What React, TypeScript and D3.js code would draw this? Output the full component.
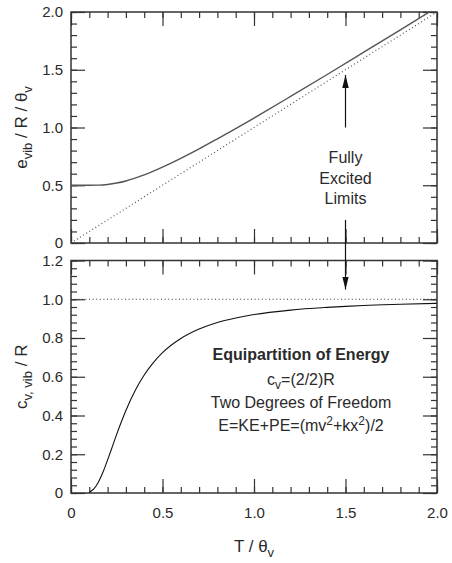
import React, { useEffect, useRef } from 'react';
import * as d3 from 'd3';

// T / theta_v values
const tEnergy = [0, 0.05, 0.1, 0.15, 0.2, 0.25, 0.3, 0.35, 0.4, 0.45, 0.5, 0.6, 0.7, 0.8, 0.9, 1.0, 1.2, 1.4, 1.6, 1.8, 2.0];
const eVib = [0.5, 0.5, 0.5, 0.501, 0.507, 0.519, 0.537, 0.561, 0.589, 0.622, 0.657, 0.733, 0.815, 0.902, 0.991, 1.082, 1.269, 1.459, 1.652, 1.846, 2.041];

const tCv = [0.1, 0.125, 0.15, 0.175, 0.2, 0.225, 0.25, 0.3, 0.35, 0.4, 0.45, 0.5, 0.6, 0.7, 0.8, 0.9, 1.0, 1.2, 1.4, 1.6, 1.8, 2.0];
const cvVib = [0.004, 0.021, 0.057, 0.108, 0.171, 0.237, 0.304, 0.426, 0.528, 0.609, 0.673, 0.724, 0.797, 0.846, 0.880, 0.903, 0.921, 0.944, 0.958, 0.968, 0.974, 0.979];

// fully excited limits
const tLimit = [0, 2.0];
const eLimit = [0, 2.0];
const cvLimit = [1.0, 1.0];

const xMajor = [0, 0.5, 1.0, 1.5, 2.0];
const eMajor = [0, 0.5, 1.0, 1.5, 2.0];
const cvMajor = [0, 0.2, 0.4, 0.6, 0.8, 1.0, 1.2];

const annotation = ['c', '=(2/2)R', 'Two Degrees of Freedom'];

const FONT = '"Liberation Sans", Arial, Helvetica, sans-serif';
const INK = '#2a2a2a';

const App = () => {
  const ref = useRef<SVGSVGElement | null>(null);

  useEffect(() => {
    const svg = d3.select(ref.current);
    svg.selectAll('*').remove();

    const left = 71, right = 437;
    const x = d3.scaleLinear().domain([0, 2]).range([left, right]);
    const yTop = d3.scaleLinear().domain([0, 2]).range([243, 12]);
    const yBot = d3.scaleLinear().domain([0, 1.2]).range([493, 260.5]);

    const defs = svg.append('defs');
    defs.append('marker')
      .attr('id', 'head')
      .attr('viewBox', '0 0 12 6')
      .attr('refX', 12).attr('refY', 3)
      .attr('markerWidth', 13).attr('markerHeight', 6.5)
      .attr('markerUnits', 'userSpaceOnUse')
      .attr('orient', 'auto')
      .append('path').attr('d', 'M0,0 L12,3 L0,6 Z').attr('fill', '#111');

    const fmt = (d: number) => (d === 0 ? '0' : d3.format('.1f')(d));

    const panel = (y: d3.ScaleLinear<number, number>, major: number[], minorStep: number, id: string) => {
      const [y0, y1] = y.range();
      const top = Math.min(y0, y1), bottom = Math.max(y0, y1);
      const d0 = y.domain()[0], d1 = y.domain()[1];
      const yMinor = d3.range(d0, d1 + 1e-9, minorStep);
      const xMinor = d3.range(0, 2 + 1e-9, 0.1);

      defs.append('clipPath').attr('id', id)
        .append('rect').attr('x', left).attr('y', top).attr('width', right - left).attr('height', bottom - top);

      const g = svg.append('g');
      const style = (s: any) => {
        s.select('.domain').remove();
        s.selectAll('line').attr('stroke', '#333').attr('stroke-width', 1.2);
        s.selectAll('text').attr('font-family', FONT).attr('font-size', 15).attr('fill', INK);
      };
      // minor ticks
      g.append('g').attr('transform', `translate(0,${bottom})`)
        .call(d3.axisBottom(x).tickValues(xMinor).tickSize(-6).tickFormat(() => '')).call(style);
      g.append('g').attr('transform', `translate(0,${top})`)
        .call(d3.axisTop(x).tickValues(xMinor).tickSize(-6).tickFormat(() => '')).call(style);
      g.append('g').attr('transform', `translate(${left},0)`)
        .call(d3.axisLeft(y).tickValues(yMinor).tickSize(-6).tickFormat(() => '')).call(style);
      g.append('g').attr('transform', `translate(${right},0)`)
        .call(d3.axisRight(y).tickValues(yMinor).tickSize(-6).tickFormat(() => '')).call(style);
      // major ticks
      g.append('g').attr('transform', `translate(0,${top})`)
        .call(d3.axisTop(x).tickValues(xMajor).tickSize(-14).tickFormat(() => '')).call(style);
      g.append('g').attr('transform', `translate(${right},0)`)
        .call(d3.axisRight(y).tickValues(major).tickSize(-14).tickFormat(() => '')).call(style);
      g.append('g').attr('transform', `translate(${left},0)`)
        .call(d3.axisLeft(y).tickValues(major).tickSize(-14).tickPadding(8).tickFormat(fmt as any)).call(style);
      g.append('rect').attr('x', left).attr('y', top).attr('width', right - left).attr('height', bottom - top)
        .attr('fill', 'none').attr('stroke', '#333').attr('stroke-width', 1.5);
      return { g, bottom };
    };

    const p1 = panel(yTop, eMajor, 0.1, 'clipTop');
    p1.g.append('g').attr('transform', `translate(0,${p1.bottom})`)
      .call(d3.axisBottom(x).tickValues(xMajor).tickSize(-14).tickFormat(() => ''))
      .call((s: any) => { s.select('.domain').remove(); s.selectAll('line').attr('stroke', '#333').attr('stroke-width', 1.2); });

    const p2 = panel(yBot, cvMajor, 0.04, 'clipBot');
    p2.g.append('g').attr('transform', `translate(0,${p2.bottom})`)
      .call(d3.axisBottom(x).tickValues(xMajor).tickSize(-14).tickPadding(14).tickFormat(fmt as any))
      .call((s: any) => {
        s.select('.domain').remove();
        s.selectAll('line').attr('stroke', '#333').attr('stroke-width', 1.2);
        s.selectAll('text').attr('font-family', FONT).attr('font-size', 15).attr('fill', INK);
      });

    // curves
    const lineTop = d3.line<number>().x((_, i) => x(tEnergy[i])).y(d => yTop(d)).curve(d3.curveMonotoneX);
    const limTop = d3.line<number>().x((_, i) => x(tLimit[i])).y(d => yTop(d));
    const lineBot = d3.line<number>().x((_, i) => x(tCv[i])).y(d => yBot(d)).curve(d3.curveMonotoneX);
    const limBot = d3.line<number>().x((_, i) => x(tLimit[i])).y(d => yBot(d));

    const c1 = svg.append('g').attr('clip-path', 'url(#clipTop)');
    c1.append('path').attr('d', limTop(eLimit) as string).attr('fill', 'none')
      .attr('stroke', '#555').attr('stroke-width', 1.2).attr('stroke-dasharray', '1 2.6');
    c1.append('path').attr('d', lineTop(eVib) as string).attr('fill', 'none')
      .attr('stroke', '#555').attr('stroke-width', 1.4);

    const c2 = svg.append('g').attr('clip-path', 'url(#clipBot)');
    c2.append('path').attr('d', limBot(cvLimit) as string).attr('fill', 'none')
      .attr('stroke', '#333').attr('stroke-width', 1.2).attr('stroke-dasharray', '1 2.6');
    c2.append('path').attr('d', lineBot(cvVib) as string).attr('fill', 'none')
      .attr('stroke', '#111').attr('stroke-width', 1.1);

    // arrows for fully excited limits
    svg.append('line').attr('x1', x(1.5)).attr('x2', x(1.5)).attr('y1', yTop(1.0)).attr('y2', yTop(1.455))
      .attr('stroke', '#111').attr('stroke-width', 1.2).attr('marker-end', 'url(#head)');
    svg.append('line').attr('x1', x(1.5)).attr('x2', x(1.5)).attr('y1', yTop(0.2)).attr('y2', yBot(1.05))
      .attr('stroke', '#111').attr('stroke-width', 1.2).attr('marker-end', 'url(#head)');

    const text = (tx: number, ty: number, s: string, size = 16, weight = 'normal') =>
      svg.append('text').attr('x', tx).attr('y', ty).attr('text-anchor', 'middle')
        .attr('font-family', FONT).attr('font-size', size).attr('font-weight', weight).attr('fill', INK).text(s);

    ['Fully', 'Excited', 'Limits'].forEach((s, i) => text(x(1.5), 163 + i * 20.5, s));

    text(301, 360, 'Equipartition of Energy', 16, 'bold');
    const cv = text(301, 385, '');
    cv.append('tspan').text(annotation[0]);
    cv.append('tspan').attr('font-size', 12).attr('dy', 4).text('v');
    cv.append('tspan').attr('dy', -4).text(annotation[1]);
    text(301, 408, annotation[2]);
    const en = text(301, 431, 'E=KE+PE=(mv');
    en.append('tspan').attr('font-size', 12).attr('dy', -6).text('2');
    en.append('tspan').attr('dy', 6).text('+kx');
    en.append('tspan').attr('font-size', 12).attr('dy', -6).text('2');
    en.append('tspan').attr('dy', 6).text(')/2');

    // axis titles
    const xt = text(254, 552, 'T / θ', 17);
    xt.append('tspan').attr('font-size', 13).attr('dy', 5).text('v');

    const yt1 = svg.append('text').attr('transform', `translate(27,${(12 + 243) / 2}) rotate(-90)`)
      .attr('text-anchor', 'middle').attr('font-family', FONT).attr('font-size', 17).attr('fill', INK);
    yt1.append('tspan').text('e');
    yt1.append('tspan').attr('font-size', 13).attr('dy', 5).text('vib');
    yt1.append('tspan').attr('dy', -5).text(' / R / θ');
    yt1.append('tspan').attr('font-size', 13).attr('dy', 5).text('v');

    const yt2 = svg.append('text').attr('transform', `translate(27,${(260.5 + 493) / 2}) rotate(-90)`)
      .attr('text-anchor', 'middle').attr('font-family', FONT).attr('font-size', 17).attr('fill', INK);
    yt2.append('tspan').text('c');
    yt2.append('tspan').attr('font-size', 13).attr('dy', 5).text('v, vib');
    yt2.append('tspan').attr('dy', -5).text(' / R');
  }, []);

  return (
    <svg ref={ref} width={452} height={563}
      style={{ position: 'absolute', left: 0, top: 0, background: '#fff' }} />
  );
};

export default App;
